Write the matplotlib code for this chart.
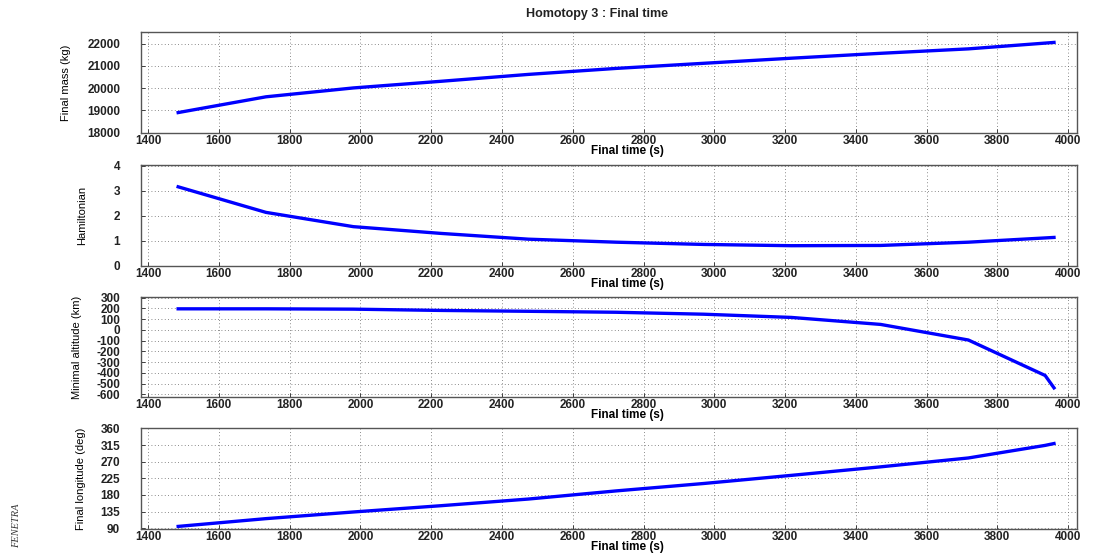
import matplotlib
matplotlib.use("Agg")
import matplotlib.pyplot as plt

# Data
final_time = [1485, 1733, 1980, 2228, 2475, 2723, 2970, 3218, 3470, 3718, 3935, 3960]
final_mass = [18900, 19610, 20010, 20310, 20620, 20890, 21120, 21350, 21570, 21770, 22030, 22060]
hamiltonian = [3.16, 2.14, 1.57, 1.30, 1.07, 0.95, 0.86, 0.81, 0.82, 0.95, 1.12, 1.14]
min_altitude = [195, 195, 192, 180, 172, 163, 145, 115, 50, -95, -425, -540]
final_longitude = [95, 116, 134, 151, 169, 191, 211, 233, 256, 280, 314, 319]

x_ticks = [1400, 1600, 1800, 2000, 2200, 2400, 2600, 2800, 3000, 3200, 3400, 3600, 3800, 4000]
mass_ticks = [18000, 19000, 20000, 21000, 22000]
ham_ticks = [0, 1, 2, 3, 4]
alt_ticks = [300, 200, 100, 0, -100, -200, -300, -400, -500, -600]
lon_ticks = [90, 135, 180, 225, 270, 315, 360]

title = "Homotopy 3 : Final time"
xlabel = "Final time (s)"

plt.rcParams['font.family'] = ['Liberation Sans', 'DejaVu Sans']
plt.rcParams['axes.unicode_minus'] = False

W, H = 1114, 553
fig = plt.figure(figsize=(W / 100, H / 100), dpi=100)

left_px, right_px = 141, 1077
panels = [
    (32, 133, final_mass, "Final mass (kg)", mass_ticks, (17980, 22530), -0.075),
    (165, 266, hamiltonian, "Hamiltonian", ham_ticks, (0, 4.03), -0.058),
    (297, 397, min_altitude, "Minimal altitude (km)", alt_ticks, (-625, 305), -0.063),
    (428, 529, final_longitude, "Final longitude (deg)", lon_ticks, (88, 361), -0.059),
]

for top, bot, yvals, ylab, yt, ylim, labx in panels:
    ax = fig.add_axes([left_px / W, 1 - bot / H, (right_px - left_px) / W, (bot - top) / H])
    ax.plot(final_time, yvals, color='#0000ff', linewidth=2.4, solid_joinstyle='round')
    ax.set_xlim(1380, 4025)
    ax.set_ylim(*ylim)
    ax.set_xticks(x_ticks)
    ax.set_yticks(yt)
    ax.grid(True, linestyle=(0, (1, 3)), color='#666666', linewidth=0.6)
    ax.tick_params(direction='in', length=3, width=0.6, colors='#222222', labelsize=8.5)
    ax.tick_params(axis='y', pad=15)
    ax.tick_params(axis='x', pad=1.5)
    for lbl in ax.get_xticklabels() + ax.get_yticklabels():
        lbl.set_fontweight('bold')
    for sp in ax.spines.values():
        sp.set_color('#555555')
        sp.set_linewidth(1.0)
    ax.set_xlabel(xlabel, fontsize=8.5, fontweight='bold')
    ax.xaxis.set_label_coords(0.52, -0.122)
    ax.set_ylabel(ylab, fontsize=8)
    ax.yaxis.set_label_coords(labx, 0.5)

fig.text(0.536, 0.975, title, ha='center', va='center', fontsize=9, fontweight='bold', color='#222222')
fig.text(0.015, 0.05, "FENETRA", rotation=90, ha='center', va='center', fontsize=7.5,
         family=['Liberation Serif', 'DejaVu Serif'], style='italic', color='#333333')

fig.savefig("out.png", dpi=100)
